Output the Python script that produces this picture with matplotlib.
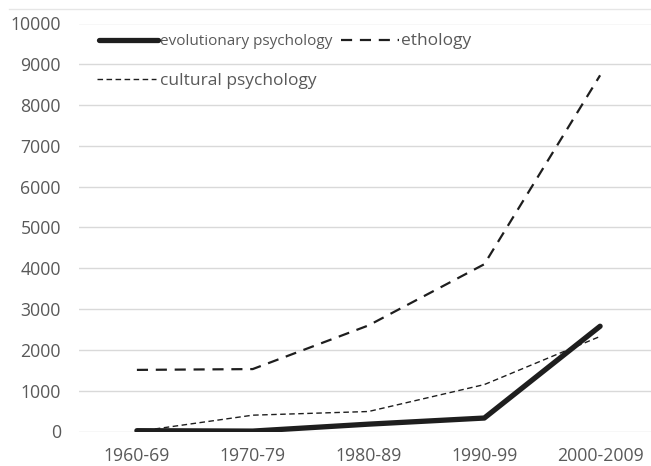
import matplotlib
matplotlib.use("Agg")
import matplotlib.pyplot as plt
from matplotlib.lines import Line2D

plt.rcParams['font.family'] = ['Open Sans', 'DejaVu Sans']

# decades on the category axis
decades = ['1960-69', '1970-79', '1980-89', '1990-99', '2000-2009']

# publication counts
evolutionary = [20, 10, 180, 330, 2580]
ethology = [1510, 1530, 2600, 4100, 8730]
cultural = [0, 400, 490, 1150, 2330]

yticks = list(range(0, 10001, 1000))

W, H = 651, 466
fig = plt.figure(figsize=(W / 100, H / 100), dpi=100)
left, right = 79 / W, 1.0
bottom, top = 1 - 431.5 / H, 1 - 23.5 / H
ax = fig.add_axes([left, bottom, right - left, top - bottom])

grid_col = '#d9d9d9'
text_col = '#595959'
line_col = '#1e1e1e'

x = list(range(len(decades)))
ax.plot(x, ethology, color=line_col, lw=1.6, ls=(0, (5, 3.5)), zorder=3)
ax.plot(x, cultural, color=line_col, lw=1.0, ls=(0, (4, 2.5)), zorder=3)
ax.plot(x, evolutionary, color=line_col, lw=3.8, solid_capstyle='round',
        solid_joinstyle='round', zorder=4)

# category band spacing ~115.8 px, clipped on the right by image edge
band = 115.8
ax.set_xlim(-0.5, -0.5 + (W - 79) / band)
ax.set_ylim(0, 10000)
ax.set_yticks(yticks)
ax.set_xticks(x)
ax.set_xticklabels(decades)
ax.yaxis.grid(True, color=grid_col, lw=1.0)
ax.set_axisbelow(True)
for s in ['top', 'right', 'left', 'bottom']:
    ax.spines[s].set_visible(False)
ax.tick_params(axis='both', length=0, labelsize=12.7, colors=text_col)
ax.tick_params(axis='y', pad=13)
ax.tick_params(axis='x', pad=11)

# thin chart border at the top
fig.add_artist(Line2D([9 / W, 1], [1 - 8.5 / H, 1 - 8.5 / H], color='#e6e6e6', lw=1.0))

# legend: row 1 evolutionary + ethology, row 2 cultural
h_evo = Line2D([], [], color=line_col, lw=3.8, solid_capstyle='round')
h_eth = Line2D([], [], color=line_col, lw=1.6, ls=(0, (5, 3.5)))
h_cul = Line2D([], [], color=line_col, lw=1.0, ls=(0, (4, 2.5)))

leg1 = ax.legend([h_evo, h_eth], ['evolutionary psychology', 'ethology'],
                 ncol=2, loc='upper left', bbox_to_anchor=(0.026, 0.99),
                 frameon=False, handlelength=4.2, handletextpad=0.15,
                 columnspacing=0.6, borderaxespad=0, labelcolor=text_col)
leg1.get_texts()[0].set_fontsize(11)
leg1.get_texts()[1].set_fontsize(12.5)
ax.add_artist(leg1)

leg2 = ax.legend([h_cul], ['cultural psychology'], loc='upper left',
                 bbox_to_anchor=(0.02, 0.896), frameon=False,
                 handlelength=3.4, handletextpad=0.2, borderaxespad=0,
                 labelcolor=text_col, fontsize=12.5)

fig.savefig('out.png', dpi=100)
